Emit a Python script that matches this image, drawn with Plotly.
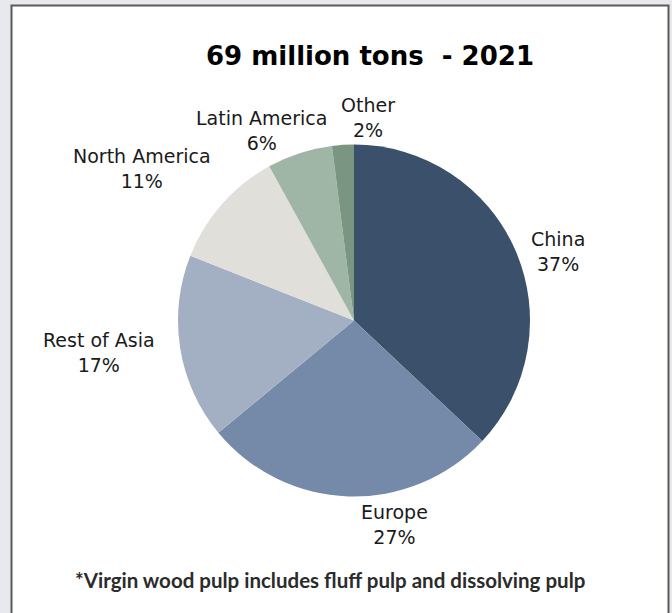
import math
import plotly.graph_objects as go

regions = ["China", "Europe", "Rest of Asia", "North America", "Latin America", "Other"]
shares = [37, 27, 17, 11, 6, 2]
colors = ["#3a506b", "#7589a9", "#a3afc3", "#e1dfda", "#9fb5a6", "#7a9683"]
title_text = "69 million tons  - 2021"
footnote = "*Virgin wood pulp includes fluff pulp and dissolving pulp"

# label nudges in px (style only)
label_shift_x = [0, 46, -8, 2, -33, 26]
label_shift_y = [-7, 12, -2, 0, -17, -13]

W, H = 672, 613
cx, cy, R = 354, 320.5, 176
GAP = 15

fig = go.Figure(go.Pie(
    labels=regions,
    values=shares,
    sort=False,
    direction="clockwise",
    rotation=0,
    marker=dict(colors=colors, line=dict(width=0)),
    textinfo="none",
    showlegend=False,
    hoverinfo="label+percent",
    domain=dict(x=[(cx - R) / W, (cx + R) / W], y=[(H - cy - R) / H, (H - cy + R) / H]),
))

fig.add_shape(type="rect", xref="paper", yref="paper",
              x0=11.5 / W, x1=668.5 / W, y0=-0.05, y1=1 - 5.5 / H,
              fillcolor="white", line=dict(color="#5a5a5a", width=2), layer="below")

# outside labels placed at each slice's mid-angle
total = sum(shares)
cum = 0
for name, v, sx, sy in zip(regions, shares, label_shift_x, label_shift_y):
    theta = 2 * math.pi * (cum + v / 2) / total
    cum += v
    s, c = math.sin(theta), math.cos(theta)
    px = cx + (R + GAP) * s
    py = cy - (R + GAP) * c
    xa = "left" if s > 0.35 else ("right" if s < -0.35 else "center")
    ya = "bottom" if c > 0.5 else ("top" if c < -0.5 else "middle")
    fig.add_annotation(text=f"{name}<br>{v}%", xref="paper", yref="paper",
                       x=px / W, y=1 - py / H, xanchor=xa, yanchor=ya,
                       xshift=sx, yshift=sy, showarrow=False, align="center",
                       font=dict(family="DejaVu Sans", size=19, color="#1a1a1a"))

fig.add_annotation(text="<b>" + title_text + "</b>", xref="paper", yref="paper",
                   x=370 / W, y=1 - 56 / H, xanchor="center", yanchor="middle",
                   showarrow=False, font=dict(family="DejaVu Sans", size=26, color="#000000"))
fig.add_annotation(text="<b>" + footnote + "</b>", xref="paper", yref="paper",
                   x=330 / W, y=1 - 580 / H, xanchor="center", yanchor="middle",
                   showarrow=False, font=dict(family="Lato", size=20.5, color="#2b2b2b"))

fig.update_layout(width=W, height=H, margin=dict(l=0, r=0, t=0, b=0),
                  paper_bgcolor="#e8e9ee", plot_bgcolor="#e8e9ee")
fig.write_html("out.html", config={"displayModeBar": False},
               post_script="document.body.style.margin='0';document.body.style.background='#e8e9ee';document.body.style.overflow='hidden';")
